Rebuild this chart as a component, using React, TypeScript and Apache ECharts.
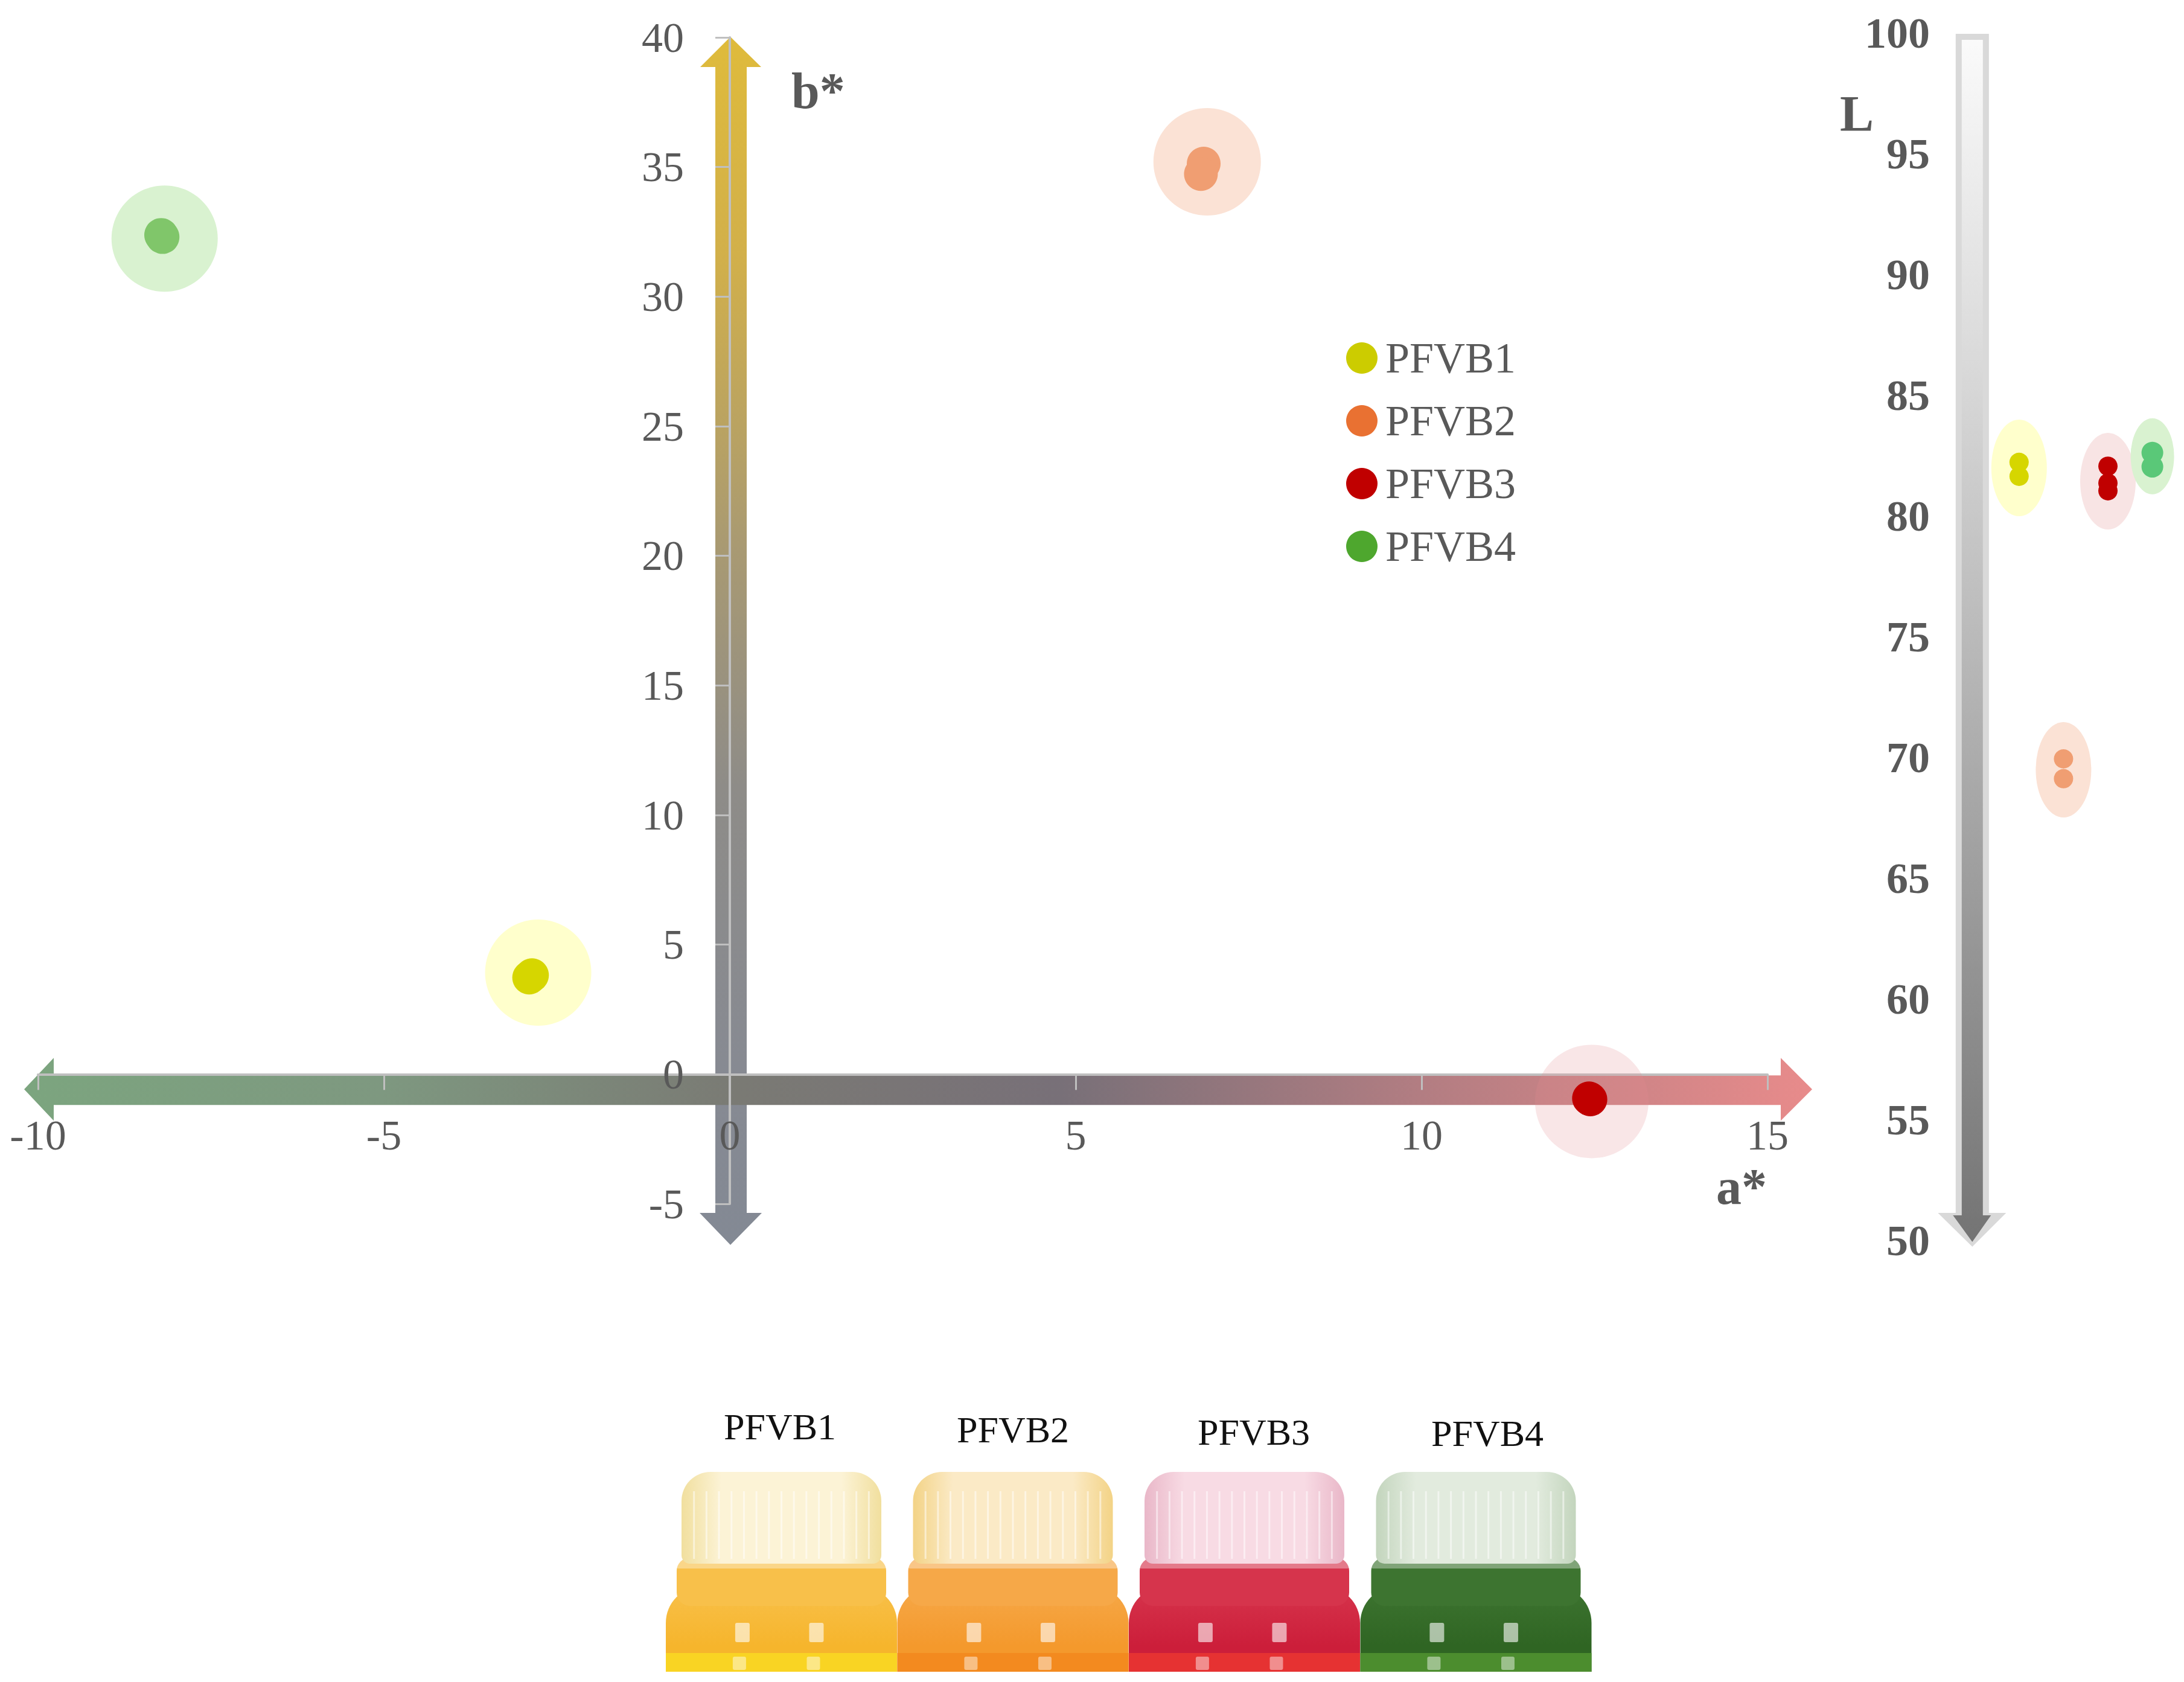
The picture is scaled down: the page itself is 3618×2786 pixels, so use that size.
import React, { useEffect, useRef } from 'react';
import * as echarts from 'echarts';

// ---------- data ----------
const samples = ['PFVB1', 'PFVB2', 'PFVB3', 'PFVB4'];
const aRange = [-10, 15];
const bRange = [-5, 40];
const lRange = [50, 100];
const tickStep = 5;

// a*, b* replicate measurements
const abPFVB1 = [[-2.9, 3.73], [-2.86, 3.82]];
const abPFVB2 = [[6.85, 35.13], [6.81, 34.73]];
const abPFVB3 = [[12.42, -0.93], [12.44, -0.97]];
const abPFVB4 = [[-8.22, 32.38], [-8.2, 32.3]];
const abMeans = [[-2.77, 3.92], [6.9, 35.2], [12.46, -1.05], [-8.17, 32.24]];

// L replicate measurements
const lPFVB1 = [82.23, 81.65];
const lPFVB2 = [69.95, 69.13];
const lPFVB3 = [82.07, 81.37, 81.05];
const lPFVB4 = [82.63, 82.05];
const lMeans = [82.0, 69.5, 81.45, 82.48];

// ---------- styles ----------
const FONT = '"Liberation Serif", "Times New Roman", serif';
const legendColors = ['#cccc00', '#e97132', '#c00000', '#4ea72e'];
const dotColorsAB = ['#d6d600', '#f09e72', '#c00000', '#80c66a'];
const dotColorsL = ['#d6d600', '#f09e72', '#c00000', '#5ac878'];
const haloColorsAB = ['#ffffcc', '#fbe2d5', 'rgba(226,140,146,0.22)', '#d9f2d0'];
const haloColorsL = ['#ffffcc', '#fbe2d5', '#f8e4e4', '#d9f2d0'];
const haloSizesAB = [176, 178, 188, 176];
const haloSizesL = [[92, 160], [92, 158], [92, 160], [72, 126]];
const dotSizesL = [32, 32, 32, 36];
const ellipseSymbol = 'path://M0 50A50 50 0 1 1 100 50A50 50 0 1 1 0 50Z';

const capColors = ['#fcf3d6', '#fbeac6', '#f8dbe4', '#e2ebde'];
const capShades = ['#f1df9e', '#f3d386', '#e9b7c8', '#c3d5bd'];
const bodyColors = ['#f6b52c', '#f4992c', '#cc1e3a', '#2f6523'];
const bodyTop = ['#f8c04a', '#f6a848', '#d6344c', '#3d7430'];
const bandColors = ['#f9d423', '#f38a1f', '#e63232', '#4c8d2e'];
const photoLabelX = [1292, 1678, 2077, 2464];
const photoLabelY = [2363, 2368, 2372, 2374];

// grid geometry (layout)
const G1 = { left: 63, top: 62, width: 2865, height: 1932 };
const G2 = { left: 3308, top: 55, width: 294.4, height: 2000 };
// axes cross at zero: offsets from grid edges
const xAxisOffset = -G1.height * (0 - bRange[0]) / (bRange[1] - bRange[0]);
const yAxisOffset = -G1.width * (0 - aRange[0]) / (aRange[1] - aRange[0]);

function buildBottles() {
  const els: any[] = [];
  const w = 383;
  for (let i = 0; i < 4; i++) {
    const x0 = 1103 + i * 383.5;
    els.push({
      type: 'rect',
      shape: { x: x0, y: 2628, width: w, height: 141, r: [60, 60, 0, 0] },
      style: {
        fill: new echarts.graphic.LinearGradient(0, 0, 0, 1, [
          { offset: 0, color: bodyTop[i] },
          { offset: 0.7, color: bodyColors[i] },
          { offset: 1, color: bodyColors[i] },
        ]),
      },
    });
    els.push({
      type: 'rect',
      shape: { x: x0, y: 2738, width: w, height: 31 },
      style: { fill: bandColors[i] },
    });
    els.push({
      type: 'rect',
      shape: { x: x0 + 18, y: 2580, width: w - 36, height: 80, r: 22 },
      style: { fill: bodyTop[i] },
    });
    els.push({
      type: 'rect',
      shape: { x: x0 + 14, y: 2584, width: w - 28, height: 14, r: 7 },
      style: { fill: 'rgba(255,255,255,0.35)' },
    });
    els.push({
      type: 'rect',
      shape: { x: x0 + 26, y: 2438, width: w - 52, height: 152, r: [48, 48, 14, 14] },
      style: {
        fill: new echarts.graphic.LinearGradient(0, 0, 1, 0, [
          { offset: 0, color: capShades[i] },
          { offset: 0.2, color: capColors[i] },
          { offset: 0.8, color: capColors[i] },
          { offset: 1, color: capShades[i] },
        ]),
      },
    });
    for (let k = 1; k < 16; k++) {
      const lx = x0 + 26 + k * ((w - 52) / 16);
      els.push({
        type: 'line',
        shape: { x1: lx, y1: 2470, x2: lx, y2: 2582 },
        style: { stroke: 'rgba(255,255,255,0.5)', lineWidth: 3 },
      });
    }
    [0.3, 0.62].forEach((f) => {
      els.push({
        type: 'rect',
        shape: { x: x0 + f * w, y: 2688, width: 24, height: 32, r: 3 },
        style: { fill: 'rgba(255,255,255,0.6)' },
      });
      els.push({
        type: 'rect',
        shape: { x: x0 + f * w - 4, y: 2744, width: 22, height: 22, r: 3 },
        style: { fill: 'rgba(255,255,255,0.45)' },
      });
    });
    els.push({
      type: 'text',
      x: photoLabelX[i],
      y: photoLabelY[i],
      style: {
        text: samples[i],
        fontSize: 62,
        fontFamily: FONT,
        fill: '#111111',
        align: 'center',
        verticalAlign: 'middle',
      },
    });
  }
  return els;
}

function arrowsRender(params: any, api: any) {
  const pL = api.coord([aRange[0], 0]);
  const pR = api.coord([aRange[1], 0]);
  const pT = api.coord([0, bRange[1]]);
  const pB = api.coord([0, bRange[0]]);
  const y0 = pL[1];
  const x0 = pT[0];
  const vPts = [
    [x0 + 1, pT[1] - 1],
    [x0 + 52, pT[1] + 49],
    [x0 + 28, pT[1] + 49],
    [x0 + 28, pB[1] + 15],
    [x0 + 53, pB[1] + 15],
    [x0 + 1, pB[1] + 68],
    [x0 - 50, pB[1] + 15],
    [x0 - 24, pB[1] + 15],
    [x0 - 24, pT[1] + 49],
    [x0 - 49, pT[1] + 49],
  ];
  const hPts = [
    [pL[0] - 23, y0 + 25],
    [pL[0] + 26, y0 - 27],
    [pL[0] + 26, y0 + 2],
    [pR[0] + 22, y0 + 2],
    [pR[0] + 22, y0 - 27],
    [pR[0] + 74, y0 + 25],
    [pR[0] + 22, y0 + 77],
    [pR[0] + 22, y0 + 51],
    [pL[0] + 26, y0 + 51],
    [pL[0] + 26, y0 + 77],
  ];
  const vGrad = new echarts.graphic.LinearGradient(0, pT[1] - 1, 0, pB[1] + 68, [
    { offset: 0, color: '#dfbb3b' },
    { offset: 0.18, color: '#d2b04a' },
    { offset: 0.42, color: '#a99a72' },
    { offset: 0.62, color: '#8e8c88' },
    { offset: 0.85, color: '#878a92' },
    { offset: 1, color: '#838994' },
  ], true);
  const hGrad = new echarts.graphic.LinearGradient(pL[0] - 23, 0, pR[0] + 74, 0, [
    { offset: 0, color: '#7ca57f' },
    { offset: 0.2, color: '#7e9880' },
    { offset: 0.4, color: '#7a7a74' },
    { offset: 0.58, color: '#787078' },
    { offset: 0.78, color: '#b27d82' },
    { offset: 1, color: '#e88b8b' },
  ], true);
  return {
    type: 'group',
    children: [
      { type: 'polygon', shape: { points: vPts }, style: { fill: vGrad } },
      { type: 'polygon', shape: { points: hPts }, style: { fill: hGrad } },
    ],
  };
}

function lBarRender(params: any, api: any) {
  const pTop = api.coord([0, lRange[1]]);
  const pBot = api.coord([0, lRange[0]]);
  const xc = pTop[0] - 77.5;
  const outer = [
    [xc - 27.5, pTop[1] + 1],
    [xc + 27.5, pTop[1] + 1],
    [xc + 27.5, pBot[1] - 46],
    [xc + 56, pBot[1] - 46],
    [xc, pBot[1] + 10],
    [xc - 57, pBot[1] - 46],
    [xc - 27.5, pBot[1] - 46],
  ];
  const inner = [
    [xc - 17.5, pTop[1] + 11],
    [xc + 17.5, pTop[1] + 11],
    [xc + 17.5, pBot[1] - 42],
    [xc + 31, pBot[1] - 42],
    [xc, pBot[1] + 2],
    [xc - 32, pBot[1] - 42],
    [xc - 17.5, pBot[1] - 42],
  ];
  const g = new echarts.graphic.LinearGradient(0, pTop[1], 0, pBot[1], [
    { offset: 0, color: '#fbfbfb' },
    { offset: 0.3, color: '#d6d6d6' },
    { offset: 1, color: '#747474' },
  ], true);
  return {
    type: 'group',
    children: [
      { type: 'polygon', shape: { points: outer }, style: { fill: '#d9d9d9' } },
      { type: 'polygon', shape: { points: inner }, style: { fill: g } },
    ],
  };
}

export default function App() {
  const ref = useRef<HTMLDivElement>(null);
  useEffect(() => {
    if (!ref.current) return;
    const chart = echarts.init(ref.current, undefined, { renderer: 'svg' });
    const abSets = [abPFVB1, abPFVB2, abPFVB3, abPFVB4];
    const lSets = [lPFVB1, lPFVB2, lPFVB3, lPFVB4];
    const labelStyle = { fontSize: 70, fontFamily: FONT, color: '#595959' };
    const option: any = {
      animation: false,
      backgroundColor: '#ffffff',
      grid: [
        { ...G1, outerBoundsMode: 'none', containLabel: false },
        { ...G2, outerBoundsMode: 'none', containLabel: false },
      ],
      xAxis: [
        {
          type: 'value', gridIndex: 0, min: aRange[0], max: aRange[1], interval: tickStep,
          position: 'bottom', offset: xAxisOffset,
          axisLine: { show: true, onZero: false, lineStyle: { color: '#bfbfbf', width: 4 } },
          axisTick: { show: true, length: 26, lineStyle: { color: '#bfbfbf', width: 3 } },
          axisLabel: { ...labelStyle, margin: 66 },
          splitLine: { show: false },
        },
        {
          type: 'category', gridIndex: 1, data: samples, boundaryGap: true,
          axisLine: { show: false }, axisTick: { show: false }, axisLabel: { show: false },
          splitLine: { show: false },
        },
      ],
      yAxis: [
        {
          type: 'value', gridIndex: 0, min: bRange[0], max: bRange[1], interval: tickStep,
          position: 'left', offset: yAxisOffset,
          axisLine: { show: true, onZero: false, lineStyle: { color: '#bfbfbf', width: 4 } },
          axisTick: { show: true, length: 24, lineStyle: { color: '#bfbfbf', width: 3 } },
          axisLabel: { ...labelStyle, margin: 76 },
          splitLine: { show: false },
        },
        {
          type: 'value', gridIndex: 1, min: lRange[0], max: lRange[1], interval: tickStep,
          axisLine: { show: false }, axisTick: { show: false },
          axisLabel: { fontSize: 72, fontFamily: FONT, fontWeight: 'bold', color: '#595959', margin: 111 },
          splitLine: { show: false },
        },
      ],
      legend: {
        data: samples.map((s, i) => ({ name: s, itemStyle: { color: legendColors[i], opacity: 1 } })),
        orient: 'vertical', left: 2225, top: 552, icon: 'circle',
        itemWidth: 52, itemHeight: 52, itemGap: 32, selectedMode: false,
        textStyle: { fontSize: 72, fontFamily: FONT, color: '#595959', padding: [0, 0, 0, 8] },
      },
      graphic: {
        elements: [
          { type: 'text', x: 1311, y: 150, style: { text: 'b*', fontSize: 84, fontWeight: 'bold', fontFamily: FONT, fill: '#595959', align: 'left', verticalAlign: 'middle' } },
          { type: 'text', x: 2843, y: 1965, style: { text: 'a*', fontSize: 84, fontWeight: 'bold', fontFamily: FONT, fill: '#595959', align: 'left', verticalAlign: 'middle' } },
          { type: 'text', x: 3076, y: 188, style: { text: 'L', fontSize: 84, fontWeight: 'bold', fontFamily: FONT, fill: '#595959', align: 'center', verticalAlign: 'middle' } },
          ...buildBottles(),
        ],
      },
      series: [
        { type: 'custom', name: 'axes arrows', xAxisIndex: 0, yAxisIndex: 0, data: [[0, 0]], renderItem: arrowsRender, z: -1, silent: true },
        ...samples.map((s, i) => ({
          type: 'scatter', name: s + ' spread', xAxisIndex: 0, yAxisIndex: 0, data: [abMeans[i]],
          symbol: 'circle', symbolSize: haloSizesAB[i], itemStyle: { color: haloColorsAB[i], opacity: 1 }, silent: true, z: 2,
          emphasis: { disabled: true },
        })),
        ...samples.map((s, i) => ({
          type: 'scatter', name: s, xAxisIndex: 0, yAxisIndex: 0, data: abSets[i],
          symbol: 'circle', symbolSize: 56, itemStyle: { color: dotColorsAB[i], opacity: 1 }, silent: true, z: 3,
          emphasis: { disabled: true },
        })),
        { type: 'custom', name: 'L bar', xAxisIndex: 1, yAxisIndex: 1, data: [[0, lRange[1]]], renderItem: lBarRender, z: -1, silent: true },
        ...samples.map((s, i) => ({
          type: 'scatter', name: s + ' L spread', xAxisIndex: 1, yAxisIndex: 1, data: [[i, lMeans[i]]],
          symbol: ellipseSymbol, symbolSize: haloSizesL[i], itemStyle: { color: haloColorsL[i], opacity: 1 }, silent: true, z: 2,
          emphasis: { disabled: true },
        })),
        ...samples.map((s, i) => ({
          type: 'scatter', name: s, xAxisIndex: 1, yAxisIndex: 1, data: lSets[i].map((v) => [i, v]),
          symbol: 'circle', symbolSize: dotSizesL[i], itemStyle: { color: dotColorsL[i], opacity: 1 }, silent: true, z: 3,
          emphasis: { disabled: true },
        })),
      ],
    };
    chart.setOption(option);
    return () => chart.dispose();
  }, []);
  return (
    <div
      ref={ref}
      style={{ position: 'absolute', left: 0, top: 0, width: 3618, height: 2786, background: '#ffffff' }}
    />
  );
}
